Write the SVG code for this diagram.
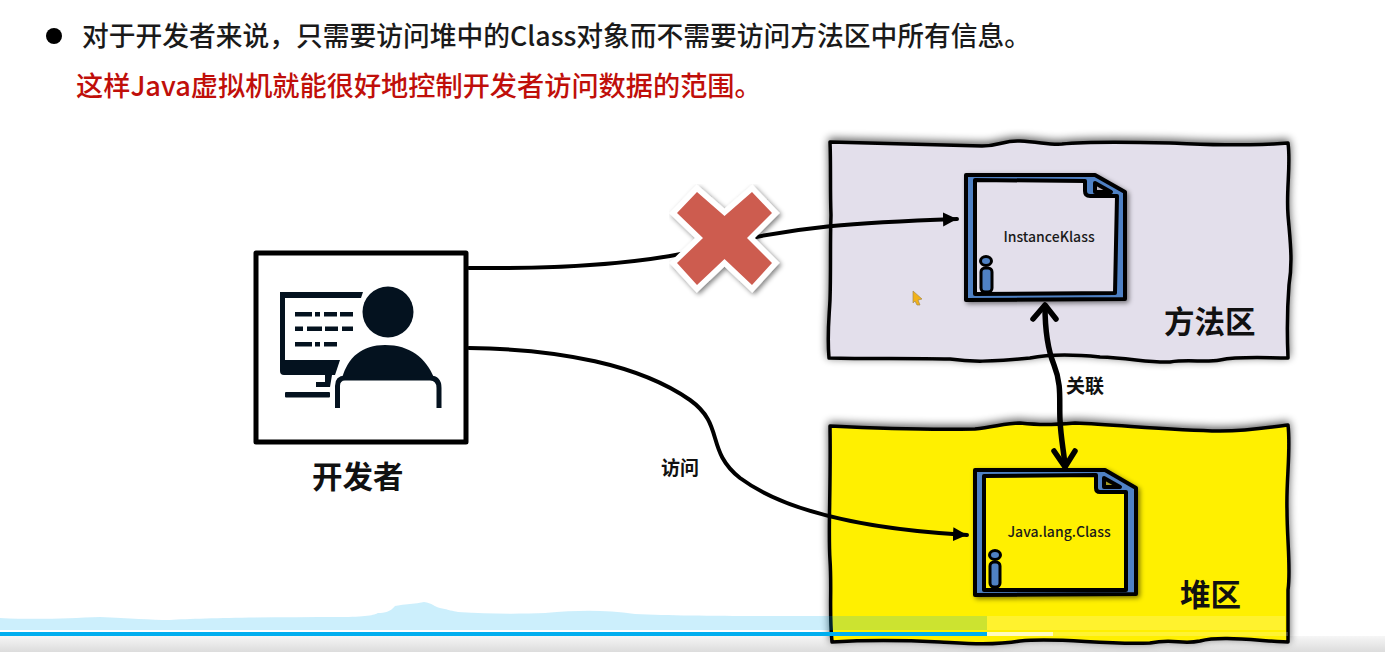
<svg xmlns="http://www.w3.org/2000/svg" width="1385" height="652" viewBox="0 0 1385 652">
<defs>
<style>
text{font-family:"Noto Sans CJK SC","Noto Sans",sans-serif}
.title{font-size:26.75px;font-weight:500;fill:#1a1a1a}
.red{font-size:27.2px;font-weight:500;fill:#c00f0a}
.big{font-size:30.5px;font-weight:700;fill:#111}
.small{font-size:19px;font-weight:700;fill:#111}
.doc{font-size:14px;font-weight:500;fill:#1a1a1a}
.wob{stroke:#000;stroke-width:3.5;stroke-linejoin:round}
.docline{stroke:#000;stroke-width:4;stroke-linejoin:round}
.iline{fill:#4f81c4;stroke:#000;stroke-width:3}
.conn{fill:none;stroke:#000;stroke-width:4;stroke-linecap:round}
.conn2{fill:none;stroke:#000;stroke-width:5.5;stroke-linecap:round;stroke-linejoin:round}
.icon{fill:#04121f}
</style>
<filter id="sh" x="-5%" y="-8%" width="110%" height="116%"><feGaussianBlur in="SourceAlpha" stdDeviation="4"/><feOffset dy="-2"/><feComponentTransfer><feFuncA type="linear" slope="0.65"/></feComponentTransfer><feMerge><feMergeNode/><feMergeNode in="SourceGraphic"/></feMerge></filter>
<filter id="sh2" x="-10%" y="-10%" width="125%" height="125%"><feGaussianBlur in="SourceAlpha" stdDeviation="2.5"/><feOffset dx="2" dy="2"/><feComponentTransfer><feFuncA type="linear" slope="0.5"/></feComponentTransfer><feMerge><feMergeNode/><feMergeNode in="SourceGraphic"/></feMerge></filter>
<marker id="tri" markerWidth="15" markerHeight="15" refX="14" refY="7" orient="auto" markerUnits="userSpaceOnUse"><path d="M0 0L14 7L0 14Z" fill="#000"/></marker>
<linearGradient id="bot" x1="0" y1="0" x2="0" y2="1"><stop offset="0" stop-color="#f6f6f6"/><stop offset="1" stop-color="#dcdcdc"/></linearGradient>
</defs>
<rect width="1385" height="652" fill="#fff"/>
<rect x="0" y="636" width="1385" height="16" fill="url(#bot)"/>
<g id="header">
<circle cx="54" cy="36" r="8" fill="#000"/>
<text class="title" x="82" y="46">对于开发者来说，只需要访问堆中的Class对象而不需要访问方法区中所有信息。</text>
<text class="red" x="76" y="96">这样Java虚拟机就能很好地控制开发者访问数据的范围。</text>
</g>
<g id="method-area">
<path class="wob" filter="url(#sh)" fill="#e3dfeb" d="M830 142C880 143 930 145 982 146C1000 146 1004 140 1020 141C1040 142 1050 145 1062 144C1090 141 1130 142 1170 143C1200 144 1240 147 1288 143C1291 165 1286 190 1288 215C1290 240 1293 260 1289 285C1287 310 1287 335 1288 358C1265 358 1240 356 1220 360C1205 363 1190 359 1170 362C1150 363 1130 358 1100 357C1070 354 1050 354 1030 358C990 362 970 362 950 359C910 358 870 359 829 358C827 335 829 320 830 300C831 270 830 245 831 215C830 190 831 165 830 142Z"/>
<text class="big" x="1164" y="333">方法区</text>
</g>
<g id="heap-area">
<path class="wob" filter="url(#sh)" fill="#fff000" d="M830 426C870 428 930 430 975 429C995 427 1005 423 1020 423C1040 425 1050 425 1075 423C1120 425 1170 430 1220 431C1250 431 1270 427 1288 425C1291 450 1286 480 1287 510C1287 540 1291 570 1288 590C1288 610 1288 625 1288 642C1250 640 1220 636 1200 641C1180 645 1175 638 1150 643C1100 645 1060 637 1020 641C990 646 960 643 940 642C900 640 865 640 832 642C829 610 832 590 830 560C828 530 831 490 830 426Z"/>
<text class="big" x="1180" y="606">堆区</text>
</g>
<g id="instance-klass">
<path class="docline" filter="url(#sh2)" fill="#4f81c4" d="M966 175L1095 175L1125 192L1125 299L966 300Z"/>
<path class="docline" fill="#e3dfeb" d="M975 180L1085 181L1085 191Q1085 196 1090 196L1117 196L1115 293L975 294Z"/>
<path class="docline" stroke-width="3" fill="#b9b4bf" d="M1095 183L1111 192L1095 192Z"/>
<ellipse class="iline" cx="986" cy="261" rx="5.5" ry="4.5"/>
<rect class="iline" x="981" y="268" width="11" height="24" rx="4"/>
<text class="doc" x="1049" y="242" text-anchor="middle">InstanceKlass</text>
</g>
<g id="java-lang-class">
<path class="docline" filter="url(#sh2)" fill="#4f81c4" d="M975 470L1105 470L1136 488L1136 594L975 595Z"/>
<path class="docline" fill="#fff000" d="M984 476L1096 475L1096 488Q1096 492 1100 492L1126 492L1126 590L984 590Z"/>
<path class="docline" stroke-width="3" fill="#a39a20" d="M1104 478L1120 487L1104 487Z"/>
<ellipse class="iline" cx="995" cy="555" rx="5.5" ry="4.5"/>
<rect class="iline" x="990" y="562" width="10" height="25" rx="4"/>
<text class="doc" x="1059" y="537" text-anchor="middle">Java.lang.Class</text>
</g>
<g id="connectors">
<path class="conn" marker-end="url(#tri)" d="M469 268C560 269 640 264 700 250C790 225 870 222 957 219"/>
<path class="conn" marker-end="url(#tri)" d="M469 348C560 349 640 365 690 400C725 425 705 450 740 478C790 515 880 530 967 535"/>
<path class="conn2" d="M1045 306C1045 330 1048 350 1054 365C1062 385 1059 400 1060 420C1061 440 1064 452 1065 466"/>
<path class="conn2" d="M1033 319L1045 305L1056 319M1054 451L1065 467L1075 451"/>
<text class="small" x="1066" y="393">关联</text>
<text class="small" x="661" y="475">访问</text>
</g>
<g id="cross">
<path filter="url(#sh2)" fill="#cd5c50" stroke="#fff" stroke-width="11" paint-order="stroke" stroke-linejoin="miter" d="M697 192L724.500 216L752 192L772 213L747 238L772 263L752 285L724.500 259L697 285L677 263L703 238L677 213Z"/>
</g>
<g id="developer">
<rect x="256" y="253" width="210" height="189" fill="#fff" stroke="#000" stroke-width="5" stroke-linejoin="round"/>
<path class="icon" d="M280 292H363L361 298H285V360H340L335 375H332L330 387H316V382H325V375H284Q280 375 280 371Z"/>
<rect class="icon" x="285" y="392" width="45" height="5.500" rx="1"/>
<g class="icon"><rect x="295" y="312" width="17" height="4.500"/><rect x="315" y="312" width="5" height="4.500"/><rect x="324" y="312" width="13" height="4.500"/><rect x="340" y="312" width="13" height="4.500"/><rect x="295" y="326.500" width="8" height="4.500"/><rect x="307" y="326.500" width="15" height="4.500"/><rect x="325" y="326.500" width="13" height="4.500"/><rect x="342" y="326.500" width="11" height="4.500"/><rect x="295" y="342" width="17" height="4.500"/><rect x="315" y="342" width="5" height="4.500"/><rect x="324" y="342" width="13" height="4.500"/></g>
<circle class="icon" cx="388" cy="312" r="25.500"/>
<path class="icon" d="M342 378C348 357 362 345 385 345C410 345 426 358 434 378Z"/>
<path d="M337.500 408V386Q337.500 378 345 378H430Q439 378 439 388V408" fill="none" stroke="#04121f" stroke-width="5"/>
<text class="big" x="312" y="488">开发者</text>
</g>
<g id="player-overlay">
<path fill="#00aeef" fill-opacity="0.2" d="M0 618C40 620 70 618 100 617C130 618 150 620 170 620C200 618 270 617 340 617C365 617 375 615 378 613C385 613 390 612 395 606C405 604 415 604 424 602C432 603 435 607 440 608C450 610 452 611 458 612C490 614 520 614 545 613C580 610 605 610 635 614C680 616 730 616 827 616L987 616V630H0Z"/>
<rect x="987" y="616" width="298" height="14" fill="#fff" fill-opacity="0.18"/>
<rect x="987" y="632" width="66" height="4" fill="#fff" fill-opacity="0.75"/>
<rect x="1053" y="632" width="235" height="4" fill="#fff" fill-opacity="0.2"/>
<rect x="0" y="632" width="987" height="4" fill="#00aeef"/>
</g>
<g id="cursor"><path d="M913 291L922 299L918 300L920 305L917 305L915 301L913 303Z" fill="#f2b218" stroke="#a58a50" stroke-width="0.7"/></g>
</svg>
